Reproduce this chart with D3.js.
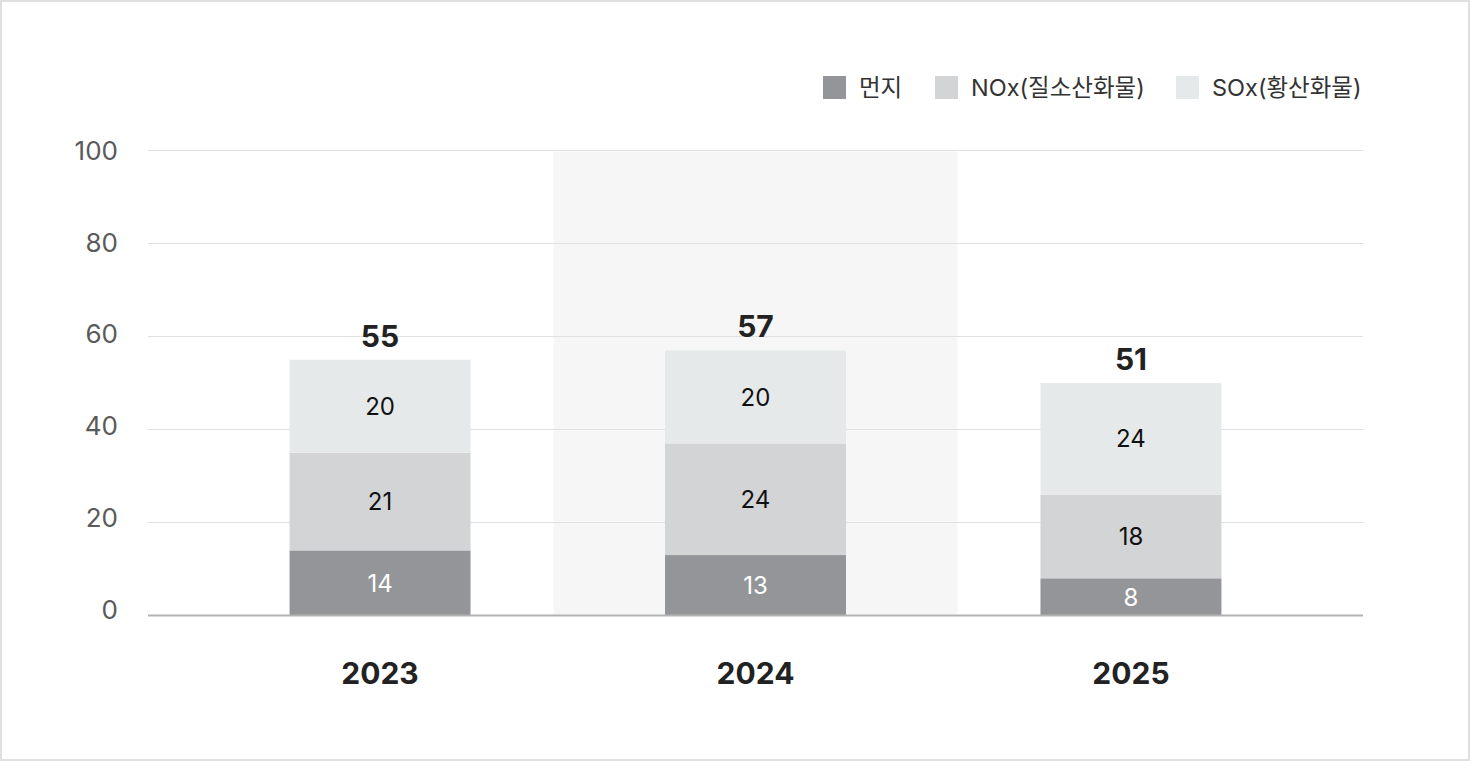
<!DOCTYPE html>
<html>
<head>
<meta charset="utf-8">
<script src="https://cdn.jsdelivr.net/npm/d3@7"></script>
<style>
  html, body { margin: 0; padding: 0; background: #fff; }
  svg { display: block; font-family: Inter, "Noto Sans CJK KR", sans-serif; }
</style>
</head>
<body>
<div id="chart"></div>
<script>
const width = 1470;
const height = 761;

// data
const years = ["2023", "2024", "2025"];
const seriesNames = ["먼지", "NOx(질소산화물)", "SOx(황산화물)"];
const dust = [14, 13, 8];
const nox = [21, 24, 18];
const sox = [20, 20, 24];
const totals = [55, 57, 51];
const yTicks = [0, 20, 40, 60, 80, 100];
const highlightYear = "2024";

const colors = ["#949598", "#d3d4d6", "#e6e9ea"];

// rows for the stack
const rows = years.map((y, i) => ({
  year: y,
  [seriesNames[0]]: dust[i],
  [seriesNames[1]]: nox[i],
  [seriesNames[2]]: sox[i]
}));

const stacked = d3.stack().keys(seriesNames)(rows);

const x = d3.scaleBand()
  .domain(years)
  .range([148, 1363])
  .paddingInner(0.518)
  .paddingOuter(0.377);

const y = d3.scaleLinear()
  .domain([0, 100])
  .range([615.5, 150.5]);

// tick labels sit a little off the grid lines in the original
const yLabel = d3.scaleLinear()
  .domain([0, 100])
  .range([609.5, 150.5]);

const color = d3.scaleOrdinal().domain(seriesNames).range(colors);

const svg = d3.select("#chart")
  .append("svg")
  .attr("width", width)
  .attr("height", height);

// outer frame
svg.append("rect")
  .attr("x", 1)
  .attr("y", 1)
  .attr("width", width - 2)
  .attr("height", height - 2)
  .attr("fill", "#fff")
  .attr("stroke", "#e0e0e0")
  .attr("stroke-width", 2);

// highlighted year
const hw = 404;
svg.append("rect")
  .attr("x", x(highlightYear) + x.bandwidth() / 2 - hw / 2)
  .attr("y", y(100) + 1)
  .attr("width", hw)
  .attr("height", y(0) - y(100) - 1)
  .attr("fill", "#f6f6f6");

// grid lines
svg.append("g")
  .selectAll("line")
  .data(yTicks.filter(d => d > 0))
  .enter()
  .append("line")
  .attr("x1", 148)
  .attr("x2", 1363)
  .attr("y1", d => y(d))
  .attr("y2", d => y(d))
  .attr("stroke", "#e0e0e0")
  .attr("stroke-width", 1);

// y labels
svg.append("g")
  .selectAll("text")
  .data(yTicks)
  .enter()
  .append("text")
  .attr("x", 118)
  .attr("y", d => yLabel(d))
  .attr("dy", "0.36em")
  .attr("text-anchor", "end")
  .attr("font-size", 26)
  .attr("fill", "#5a5a5a")
  .text(d => d);

// bars
const layer = svg.append("g")
  .selectAll("g")
  .data(stacked)
  .enter()
  .append("g")
  .attr("fill", d => color(d.key));

layer.selectAll("rect")
  .data(d => d)
  .enter()
  .append("rect")
  .attr("x", d => x(d.data.year))
  .attr("y", d => y(d[1]))
  .attr("width", x.bandwidth())
  .attr("height", d => y(d[0]) - y(d[1]));

// segment values
svg.append("g")
  .selectAll("g")
  .data(stacked)
  .enter()
  .append("g")
  .attr("fill", (d, i) => i === 0 ? "#fff" : "#111")
  .selectAll("text")
  .data(d => d.map(v => ({ v, key: d.key })))
  .enter()
  .append("text")
  .attr("x", d => x(d.v.data.year) + x.bandwidth() / 2)
  .attr("y", d => (y(d.v[0]) + y(d.v[1])) / 2)
  .attr("dy", "0.36em")
  .attr("text-anchor", "middle")
  .attr("font-size", 24)
  .text(d => d.v.data[d.key]);

// baseline
svg.append("line")
  .attr("x1", 148)
  .attr("x2", 1363)
  .attr("y1", y(0))
  .attr("y2", y(0))
  .attr("stroke", "#b3b3b3")
  .attr("stroke-width", 2);

// totals
svg.append("g")
  .selectAll("text")
  .data(years)
  .enter()
  .append("text")
  .attr("x", d => x(d) + x.bandwidth() / 2)
  .attr("y", (d, i) => y(d3.max(stacked, s => s[i][1])) - 13)
  .attr("text-anchor", "middle")
  .attr("font-size", 30)
  .attr("font-weight", 700)
  .attr("fill", "#222")
  .text((d, i) => totals[i]);

// x labels
svg.append("g")
  .selectAll("text")
  .data(years)
  .enter()
  .append("text")
  .attr("x", d => x(d) + x.bandwidth() / 2)
  .attr("y", 673)
  .attr("dy", "0.36em")
  .attr("text-anchor", "middle")
  .attr("font-size", 30)
  .attr("font-weight", 700)
  .attr("fill", "#222")
  .text(d => d);

// legend
const legendX = [823, 935, 1176];
const legend = svg.append("g")
  .selectAll("g")
  .data(seriesNames)
  .enter()
  .append("g")
  .attr("transform", (d, i) => `translate(${legendX[i]},76)`);

legend.append("rect")
  .attr("width", 23)
  .attr("height", 23)
  .attr("fill", d => color(d));

legend.append("text")
  .attr("x", 36)
  .attr("y", 12)
  .attr("dy", "0.36em")
  .attr("font-size", 23.5)
  .attr("fill", "#333")
  .text(d => d);
</script>
</body>
</html>
